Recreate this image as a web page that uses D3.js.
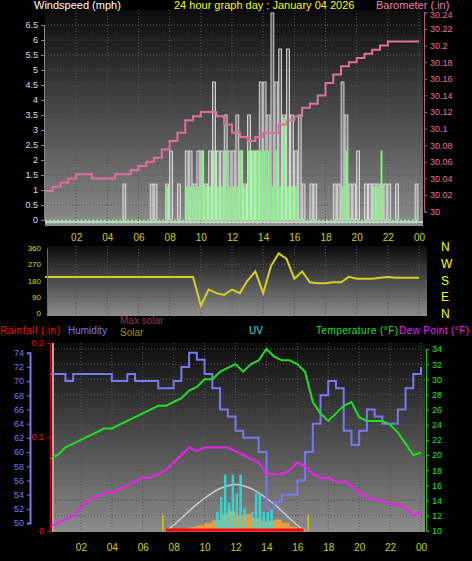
<!DOCTYPE html>
<html><head><meta charset="utf-8">
<script src="https://cdn.jsdelivr.net/npm/d3@7"></script>
<style>body{margin:0;background:#000}svg{display:block;font-family:"Liberation Sans",Arial,sans-serif}</style>
</head><body>
<script>
// wind, 15 minute slots from 00:00
const windGust = [0,0,0,0, 0,0,0,0, 0,0,0,0, 0,0,0,0, 0,0,0,0, 1.2,0,0,0, 0,0,0,1.2, 1.2,0,0,1.2,
  2.3,0,1.2,0, 2.3,2.3,1.2,2.3, 2.3,1.2,2.3,4.6, 2.3,2.3,3.5,2.3, 2.3,3.5,2.3,1.2, 3.5,2.3,2.3,4.6,
  4.6,3.5,6.9,4.6, 5.7,3.5,5.7,3.5, 2.3,3.5,1.2,0, 1.2,1.2,0,0, 0,0,1.2,1.2, 4.6,3.5,1.2,1.2,
  2.3,0,1.2,1.2, 1.2,1.2,1.2,1.2, 1.2,0,1.2,0, 0,0,0,1.2];
const windSpeed = [0,0,0,0, 0,0,0,0, 0,0,0,0, 0,0,0,0, 0,0,0,0, 0,0,0,0, 0,0,0,0, 0,0,0,1.1,
  0,0,0,0, 1.1,1.1,1.1,1.1, 2.3,1.1,1.1,2.3, 1.1,1.1,2.3,1.1, 1.1,1.1,2.3,1.1, 2.3,2.3,2.3,2.3,
  2.3,2.3,1.1,2.3, 1.1,3.4,1.1,1.1, 1.1,0,0,0, 0,0,0,0, 0,0,0,0, 1.1,2.3,0,0,
  0,0,0,0, 1.1,1.1,2.3,0, 0,0,0,0, 0,0,0,0];
// 30 minute samples from 00:00 to 24:00
const barometer = [30.025,30.03,30.035,30.04,30.045,30.045,30.04,30.04,30.04,30.045,30.045,30.05,30.055,30.06,30.065,30.075,
  30.085,30.095,30.11,30.115,30.12,30.12,30.115,30.105,30.095,30.09,30.085,30.09,30.095,30.095,30.105,30.11,30.115,
  30.125,30.13,30.14,30.155,30.165,30.175,30.18,30.185,30.19,30.195,30.2,30.205,30.205,30.205,30.205,30.205];
const windDir = [200,200,200,200,200,200,200,200,200,200,200,200,200,200,200,200,200,200,200,200,
  40,130,110,100,130,110,180,230,110,260,330,300,190,230,170,165,165,170,170,200,190,190,190,195,200,195,195,195,195];
const humidity = [71,71,70,71,71,71,71,71,70,70,71,70,70,70,69,69,70,72,74,73,71,69,66,65,63,62,62,60,52,53,54,54,56,60,
  64,68,70,69,63,61,63,66,65,64,64,66,69,71,72];
const temperature = [19.5,20,21,21.5,22,22.5,23,23.5,23.5,24,24.5,25,25.5,26,26.5,26.5,27,27.5,28.5,29,30,30,31,31.5,32,31,
  32,32.5,34,33,32.5,32.5,32,31,27,25.5,24.5,25.5,26.5,27,25,24.5,24.5,24.5,24,23,21.5,20,20.3];
const dewPoint = [10.5,11,11.5,12,13,14,14.5,15,15,15.5,16,16.5,17,17,17.5,18,19,20,21,20.5,21,21,21,21,20.5,20,19.5,19,
  17.5,17.5,17.5,18,19,18.5,17.5,17,17,16.5,16.5,16,15,14.5,14,14,13.5,13.5,13,12,12.5];
// solar from 07:30 to 16:30, 30 minute samples
const maxSolar = [0,20,45,70,95,115,135,150,160,165,160,150,135,115,95,70,45,20,0];
const solar = [0,4,8,14,20,28,38,60,70,55,60,45,35,35,40,28,15,6,0];
// UV, 15 minute samples from 10:45
const uv = [1.0,1.8,3.0,1.5,3.0,2.0,3.0,1.2,0,1.0,2.0,2.0,1.0,1.0,1.2];
const hourTicks = [2,4,6,8,10,12,14,16,18,20,22,24];

const svg = d3.select("body").append("svg").attr("width",472).attr("height",561);
const defs = svg.append("defs");
const grad = defs.append("linearGradient").attr("id","bg").attr("x1",0).attr("x2",0).attr("y1",0).attr("y2",1);
grad.append("stop").attr("offset","0%").attr("stop-color","#0c0c0c");
grad.append("stop").attr("offset","100%").attr("stop-color","#8c8c8c");

const fmtH = d => d3.format("02")(d % 24);
const half = d3.range(49).map(i => i/2);

function panel(x0,x1,y0,y1){
  svg.append("rect").attr("x",x0).attr("y",y0).attr("width",x1-x0).attr("height",y1-y0).attr("fill","url(#bg)");
}
function grid(x,y0,y1,ys,yticks,x0,x1){
  const g = svg.append("g").attr("stroke","#555").attr("stroke-dasharray","1,2");
  hourTicks.forEach(h => g.append("line").attr("x1",x(h)).attr("x2",x(h)).attr("y1",y0).attr("y2",y1));
  yticks.forEach(v => g.append("line").attr("x1",x0).attr("x2",x1).attr("y1",ys(v)).attr("y2",ys(v)));
}
function hourAxis(x,y){
  svg.append("g").attr("transform",`translate(0,${y})`)
    .call(d3.axisBottom(x).tickValues(hourTicks).tickFormat(fmtH).tickSize(0))
    .call(g => g.select(".domain").remove())
    .selectAll("text").attr("fill","#d0d000").attr("font-size",10).attr("font-family","Liberation Sans");
}

// ---------- top panel ----------
const x1s = d3.scaleLinear().domain([0,24]).range([45,419]);
const ws = d3.scaleLinear().domain([0,6.5]).range([220,25]);
const bs = d3.scaleLinear().domain([30,30.24]).range([211.7,12.3]);
panel(45,423,10,226);
grid(x1s,10,226,ws,d3.range(0.5,6.6,0.5),45,423);

const slotW = x1s(0.25)-x1s(0);
svg.append("g").selectAll("rect").data(windGust).join("rect")
  .attr("x",(d,i)=>x1s(i/4)).attr("width",slotW-1).attr("y",d=>ws(d)).attr("height",d=>ws(0)-ws(d))
  .attr("fill","#ddd").attr("fill-opacity",0.3).attr("stroke","#eee").attr("stroke-width",0.8);
svg.append("g").selectAll("rect").data(windSpeed).join("rect")
  .attr("x",(d,i)=>x1s(i/4)+1).attr("width",slotW-3).attr("y",d=>ws(d)).attr("height",d=>ws(0)-ws(d)+3)
  .attr("fill","#6f6").attr("fill-opacity",0.35).attr("stroke","#7f7").attr("stroke-width",1);
svg.append("line").attr("x1",45).attr("x2",423).attr("y1",ws(0)+2).attr("y2",ws(0)+2).attr("stroke","#ccc").attr("stroke-width",2);
svg.append("path").datum(barometer)
  .attr("d",d3.line().x((d,i)=>x1s(half[i])).y(d=>bs(d)).curve(d3.curveStepAfter))
  .attr("fill","none").attr("stroke","#e070a0").attr("stroke-width",2);

svg.append("g").attr("transform","translate(44,0)")
  .call(d3.axisLeft(ws).tickValues(d3.range(0,6.6,0.5)).tickFormat(d=>d3.format("~g")(d)).tickSize(3))
  .call(g=>g.select(".domain").attr("stroke","#888"))
  .call(g=>g.selectAll("line").attr("stroke","#888"))
  .selectAll("text").attr("fill","#dde").attr("font-size",9).attr("font-family","Liberation Sans");
svg.append("g").attr("transform","translate(424,0)")
  .call(d3.axisRight(bs).tickValues(d3.range(30,30.241,0.02)).tickFormat(d=>d3.format("~g")(+d.toFixed(2))).tickSize(3))
  .call(g=>g.select(".domain").attr("stroke","#b06080"))
  .call(g=>g.selectAll("line").attr("stroke","#b06080"))
  .selectAll("text").attr("fill","#f07090").attr("font-size",9).attr("font-family","Liberation Sans")
  .attr("dy",(d,i,n)=>i===n.length-1?"0.55em":"0.32em");
hourAxis(x1s,231);
svg.append("text").attr("x",34).attr("y",9).attr("fill","#fff").attr("font-size",11).text("Windspeed (mph)");
svg.append("text").attr("x",174).attr("y",9).attr("fill","#ff0").attr("font-size",11).text("24 hour graph day : January 04 2026");
svg.append("text").attr("x",376).attr("y",9).attr("fill","#f080b0").attr("font-size",11).text("Barometer (.in)");

// ---------- wind direction ----------
const ds = d3.scaleLinear().domain([0,360]).range([313,248]);
panel(47,427,246,316);
grid(x1s,246,316,ds,[90,180,270],47,427);
svg.append("path").datum(windDir)
  .attr("d",d3.line().x((d,i)=>x1s(half[i])).y(d=>ds(d)))
  .attr("fill","none").attr("stroke","#d8d020").attr("stroke-width",2);
svg.append("g").attr("transform","translate(47,0)")
  .call(d3.axisLeft(ds).tickValues([0,90,180,270,360]).tickSize(3))
  .call(g=>g.select(".domain").attr("stroke","#666"))
  .selectAll("text").attr("fill","#dd0").attr("font-size",8).attr("font-family","Liberation Sans");
["N","W","S","E","N"].forEach((c,i)=>svg.append("text").attr("x",441).attr("y",251+i*16.8)
  .attr("fill","#ff0").attr("font-size",12).text(c));

// ---------- bottom panel ----------
const x3 = d3.scaleLinear().domain([0,24]).range([50,421]);
const hs = d3.scaleLinear().domain([50,74]).range([523,352.7]);
const ts = d3.scaleLinear().domain([10,34]).range([530.7,349]);
const rs = d3.scaleLinear().domain([0,0.2]).range([531,343]);
const ss = d3.scaleLinear().domain([0,660]).range([531,343]);
const us = d3.scaleLinear().domain([0,10]).range([531,343]);
panel(52,425,343,532);
grid(x3,343,532,ts,d3.range(12,34.1,2),52,425);
svg.append("line").attr("x1",53).attr("x2",53).attr("y1",343).attr("y2",532).attr("stroke","#aaa").attr("stroke-width",2);

const solarT = d3.range(19).map(i => 7.5 + i/2);
svg.append("path").datum(solar)
  .attr("d",d3.area().x((d,i)=>x3(solarT[i])).y0(ss(0)).y1(d=>ss(d)).curve(d3.curveStepAfter))
  .attr("fill","#f0a040").attr("fill-opacity",0.9);
svg.append("path").datum(maxSolar)
  .attr("d",d3.line().x((d,i)=>x3(solarT[i])).y(d=>ss(d)).curve(d3.curveBasis))
  .attr("fill","none").attr("stroke","#ccc").attr("stroke-width",1.5);
svg.append("g").selectAll("rect").data(uv).join("rect")
  .attr("x",(d,i)=>x3(10.75+i/4)).attr("width",2.5).attr("y",d=>us(d)).attr("height",d=>us(0)-us(d))
  .attr("fill","#30e0e0").attr("fill-opacity",0.85);
svg.append("line").attr("x1",x3(7.5)).attr("x2",x3(16.4)).attr("y1",rs(0)-1).attr("y2",rs(0)-1).attr("stroke","#f00").attr("stroke-width",3);
[7.3,16.7].forEach(h=>svg.append("line").attr("x1",x3(h)).attr("x2",x3(h)).attr("y1",515).attr("y2",531).attr("stroke","#cc0").attr("stroke-width",1.5));

const lineAt = sc => d3.line().x((d,i)=>x3(half[i])).y(d=>sc(d));
svg.append("path").datum(humidity).attr("d",lineAt(hs).curve(d3.curveStepAfter)).attr("fill","none").attr("stroke","#7878f0").attr("stroke-width",2);
svg.append("path").datum(temperature).attr("d",lineAt(ts)).attr("fill","none").attr("stroke","#20e020").attr("stroke-width",2);
svg.append("path").datum(dewPoint).attr("d",lineAt(ts)).attr("fill","none").attr("stroke","#f020f0").attr("stroke-width",2);

svg.append("g").attr("transform","translate(30,0)")
  .call(d3.axisLeft(hs).tickValues(d3.range(50,74.1,2)).tickSize(3))
  .call(g=>g.select(".domain").attr("stroke","#7878f0").attr("stroke-width",2))
  .call(g=>g.selectAll("line").attr("stroke","#7878f0"))
  .selectAll("text").attr("fill","#7878f0").attr("font-size",9).attr("font-family","Liberation Sans");
svg.append("g").attr("transform","translate(50,0)")
  .call(d3.axisLeft(rs).tickValues([0,0.1,0.2]).tickFormat(d3.format("~g")).tickSize(3))
  .call(g=>g.select(".domain").attr("stroke","#c00"))
  .call(g=>g.selectAll("line").attr("stroke","#c00"))
  .selectAll("text").attr("fill","#f00").attr("font-size",9).attr("font-family","Liberation Sans");
svg.append("g").attr("transform","translate(426,0)")
  .call(d3.axisRight(ts).tickValues(d3.range(10,34.1,2)).tickSize(3))
  .call(g=>g.select(".domain").attr("stroke","#20c020"))
  .call(g=>g.selectAll("line").attr("stroke","#20c020"))
  .selectAll("text").attr("fill","#20e020").attr("font-size",9).attr("font-family","Liberation Sans");
hourAxis(x3,541);

const leg = [["Rainfall (.in)",0,334,"#f00"],["Humidity",68,334,"#7878f0"],["Max solar",120,324,"#a03050"],
  ["Solar",120,336,"#a09000"],["UV",249,334,"#30e0e0"],["Temperature (°F)",316,334,"#20e020"],["Dew Point (°F)",399,334,"#f020f0"]];
leg.forEach(l=>svg.append("text").attr("x",l[1]).attr("y",l[2]).attr("fill",l[3]).attr("font-size",10).attr("textLength",l[0].length>10?(l[1]===399?70:l[1]===316?82:60):null).text(l[0]));
</script>
</body></html>
